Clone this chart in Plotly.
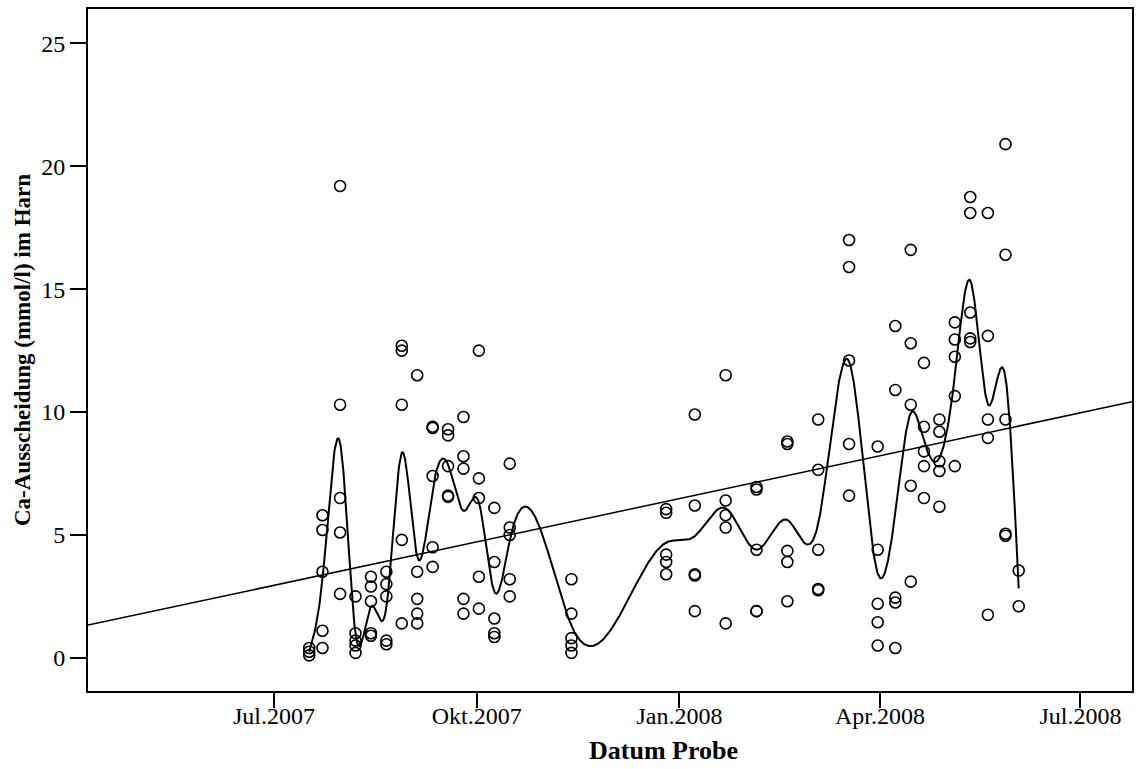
import numpy as np
import pandas as pd
import plotly.graph_objects as go

# ---- data: sample dates and Ca values (mmol/l) per date ----
sample_dates = [
    "2007-07-17", "2007-07-23", "2007-07-31", "2007-08-07", "2007-08-14",
    "2007-08-21", "2007-08-28", "2007-09-04", "2007-09-11", "2007-09-18",
    "2007-09-25", "2007-10-02", "2007-10-09", "2007-10-16", "2007-11-13",
    "2007-12-26", "2008-01-08", "2008-01-22", "2008-02-05", "2008-02-19",
    "2008-03-04", "2008-03-18", "2008-03-31", "2008-04-08", "2008-04-15",
    "2008-04-21", "2008-04-28", "2008-05-05", "2008-05-12", "2008-05-20",
    "2008-05-28", "2008-06-03",
]
ca_values = [
    [0.4, 0.25, 0.1],
    [5.8, 5.2, 3.5, 1.1, 0.4],
    [19.2, 10.3, 6.5, 5.1, 2.6],
    [2.5, 1.0, 0.7, 0.5, 0.2],
    [3.3, 2.9, 2.3, 1.0, 0.9],
    [3.5, 3.0, 2.5, 0.7, 0.55],
    [12.7, 12.5, 10.3, 4.8, 1.4],
    [11.5, 3.5, 2.4, 1.8, 1.4],
    [9.4, 9.35, 7.4, 4.5, 3.7],
    [9.3, 9.05, 7.8, 6.6, 6.55],
    [9.8, 8.2, 7.7, 2.4, 1.8],
    [12.5, 7.3, 6.5, 3.3, 2.0],
    [6.1, 3.9, 1.6, 1.0, 0.85],
    [7.9, 5.3, 5.0, 3.2, 2.5],
    [3.2, 1.8, 0.8, 0.5, 0.2],
    [6.05, 5.9, 4.2, 3.9, 3.4],
    [9.9, 6.2, 3.4, 3.35, 1.9],
    [11.5, 6.4, 5.8, 5.3, 1.4],
    [6.95, 6.85, 4.4, 1.9, 1.9],
    [8.8, 8.7, 4.35, 3.9, 2.3],
    [9.7, 7.65, 4.4, 2.8, 2.75],
    [17.0, 15.9, 12.1, 8.7, 6.6],
    [8.6, 4.4, 2.2, 1.45, 0.5],
    [13.5, 10.9, 2.45, 2.25, 0.4],
    [16.6, 12.8, 10.3, 7.0, 3.1],
    [12.0, 9.4, 8.4, 7.8, 6.5],
    [9.7, 9.2, 8.0, 7.6, 6.15],
    [13.65, 12.95, 12.25, 10.65, 7.8],
    [18.75, 18.1, 14.05, 13.0, 12.85],
    [18.1, 13.1, 9.7, 8.95, 1.75],
    [20.9, 16.4, 9.7, 5.05, 4.97],
    [3.55, 2.1],
]
tick_dates = ["2007-07-01", "2007-10-01", "2008-01-01", "2008-04-01", "2008-07-01"]
tick_labels = ["Jul.2007", "Okt.2007", "Jan.2008", "Apr.2008", "Jul.2008"]
y_ticks = [0, 5, 10, 15, 20, 25]
x_range = ["2007-04-07 14:00", "2008-07-24 10:00"]
y_range = [-1.35, 26.4]
x_title = "Datum Probe"
y_title = "Ca-Ausscheidung (mmol/l) im Harn"

# ---- derived ----
epoch = pd.Timestamp("2007-01-01")
def to_days(d):
    return (pd.Timestamp(d) - epoch) / pd.Timedelta(days=1)
def to_date(v):
    return epoch + pd.Timedelta(days=float(v))

pt_x, pt_y = [], []
for d, vals in zip(sample_dates, ca_values):
    for v in vals:
        pt_x.append(d)
        pt_y.append(v)

xd = np.array([to_days(d) for d in sample_dates])
means = np.array([np.mean(v) for v in ca_values])

# natural cubic spline through the per-date means
n = len(xd)
h = np.diff(xd)
A = np.zeros((n, n)); rhs = np.zeros(n)
A[0, 0] = 1; A[-1, -1] = 1
for i in range(1, n - 1):
    A[i, i - 1] = h[i - 1]
    A[i, i] = 2 * (h[i - 1] + h[i])
    A[i, i + 1] = h[i]
    rhs[i] = 6 * ((means[i + 1] - means[i]) / h[i] - (means[i] - means[i - 1]) / h[i - 1])
M = np.linalg.solve(A, rhs)
xs = np.linspace(xd[0], xd[-1], 1500)
idx = np.clip(np.searchsorted(xd, xs) - 1, 0, n - 2)
x0, x1 = xd[idx], xd[idx + 1]
hh = x1 - x0
t1 = x1 - xs; t0 = xs - x0
ys = (M[idx] * t1**3 + M[idx + 1] * t0**3) / (6 * hh) \
    + (means[idx] / hh - M[idx] * hh / 6) * t1 \
    + (means[idx + 1] / hh - M[idx + 1] * hh / 6) * t0
spline_x = [to_date(v) for v in xs]

# linear fit over all points
all_d = np.array([to_days(d) for d in pt_x])
slope, icpt = np.polyfit(all_d, np.array(pt_y), 1)
fx = np.array([to_days(x_range[0]), to_days(x_range[1])])
fit_y = slope * fx + icpt
fit_x = [to_date(v) for v in fx]

# x title centred on the data range (as SPSS does)
x_title_pos = to_date((xd[0] + xd[-1]) / 2)

fig = go.Figure()
fig.add_trace(go.Scatter(x=fit_x, y=fit_y, mode="lines",
                         line=dict(color="black", width=1.5), hoverinfo="skip"))
fig.add_trace(go.Scatter(x=spline_x, y=ys, mode="lines",
                         line=dict(color="black", width=2), hoverinfo="skip"))
fig.add_trace(go.Scatter(x=pt_x, y=pt_y, mode="markers",
                         marker=dict(symbol="circle-open", size=11, color="black",
                                     line=dict(width=1.6, color="black"))))

font_family = "Liberation Serif"
fig.update_layout(
    width=1138, height=769,
    margin=dict(l=88, r=6, t=9, b=78),
    paper_bgcolor="white", plot_bgcolor="white",
    showlegend=False,
    font=dict(family=font_family, color="black"),
)
fig.update_xaxes(
    range=x_range, type="date",
    tickmode="array", tickvals=tick_dates, ticktext=tick_labels,
    ticks="outside", ticklen=15, tickwidth=2, tickcolor="black",
    showline=True, linecolor="black", linewidth=2, mirror=True,
    showgrid=False, zeroline=False,
    tickfont=dict(family=font_family, size=24, color="black"),
    ticklabelstandoff=-13,
    automargin=False,
)
fig.update_yaxes(
    range=y_range,
    tickmode="array", tickvals=y_ticks, ticktext=[str(v) for v in y_ticks],
    ticks="outside", ticklen=16, tickwidth=2, tickcolor="black",
    showline=True, linecolor="black", linewidth=2, mirror=True,
    showgrid=False, zeroline=False,
    tickfont=dict(family=font_family, size=24, color="black"),
    ticklabelstandoff=0,
    title=dict(text="<b>" + y_title + "</b>", font=dict(family=font_family, size=23, color="black"), standoff=4),
    automargin=False,
)
fig.add_annotation(
    x=x_title_pos, xref="x", y=0, yref="paper", yshift=-59,
    text="<b>" + x_title + "</b>", showarrow=False,
    xanchor="center", yanchor="middle",
    font=dict(family=font_family, size=26, color="black"),
)
fig.write_html("out.html")
